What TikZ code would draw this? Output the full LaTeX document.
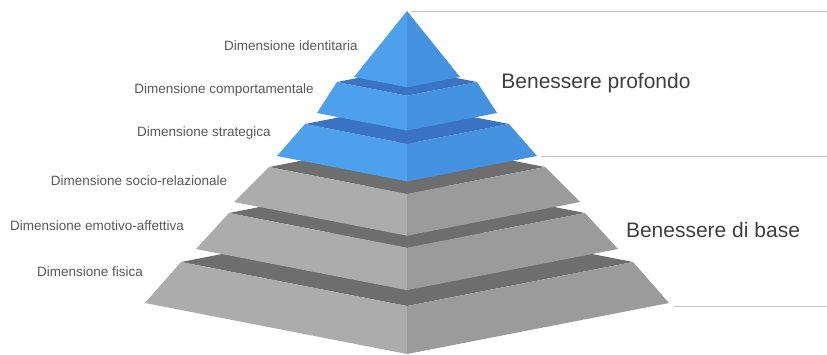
\documentclass[tikz,border=0pt]{standalone}
\usepackage{fontspec}
\setmainfont{Liberation Sans}
\usepackage{tikz}

\definecolor{blueL}{RGB}{77,160,235}
\definecolor{blueR}{RGB}{68,146,224}
\definecolor{blueT}{RGB}{58,114,196}
\definecolor{greyL}{RGB}{172,172,172}
\definecolor{greyR}{RGB}{155,155,155}
\definecolor{greyT}{RGB}{110,110,110}

\tikzset{
  dimlabel/.style={text=black!65, font=\fontsize{13.5}{15}\selectfont, inner sep=0pt},
  benlabel/.style={text=black!75, font=\fontsize{21}{24}\selectfont, inner sep=0pt},
  sepline/.style={draw=black!22, line width=0.9pt}
}

\begin{document}
\begin{tikzpicture}[x=1pt,y=-1pt]
\useasboundingbox (0,0) rectangle (827,355);
\fill[white] (0,0) rectangle (827,355);
\fill[greyT] (181,262) -- (407,218) -- (633,262) -- (407,306) -- cycle;
\fill[greyL] (181,262) -- (407,306) -- (407,354) -- (145,303) -- cycle;
\fill[greyR] (407,306) -- (633,262) -- (669,303) -- (407,354) -- cycle;
\fill[greyT] (229,213) -- (407,178.3) -- (585,213) -- (407,247.7) -- cycle;
\fill[greyL] (229,213) -- (407,247.7) -- (407,290.1) -- (196,249) -- cycle;
\fill[greyR] (407,247.7) -- (585,213) -- (618,249) -- (407,290.1) -- cycle;
\fill[greyT] (269,167) -- (407,140.1) -- (545,167) -- (407,193.9) -- cycle;
\fill[greyL] (269,167) -- (407,193.9) -- (407,235.7) -- (234,202) -- cycle;
\fill[greyR] (407,193.9) -- (545,167) -- (580,202) -- (407,235.7) -- cycle;
\fill[blueT] (305,124) -- (407,104.1) -- (509,124) -- (407,143.9) -- cycle;
\fill[blueL] (305,124) -- (407,143.9) -- (407,181.4) -- (277,156) -- cycle;
\fill[blueR] (407,143.9) -- (509,124) -- (537,156) -- (407,181.4) -- cycle;
\fill[blueT] (337,82) -- (407,68.4) -- (477,82) -- (407,95.7) -- cycle;
\fill[blueL] (337,82) -- (407,95.7) -- (407,130.6) -- (317,113) -- cycle;
\fill[blueR] (407,95.7) -- (477,82) -- (497,113) -- (407,130.6) -- cycle;
\fill[blueL] (407,11) -- (407,87.3) -- (354,77) -- cycle;
\fill[blueR] (407,11) -- (460,77) -- (407,87.3) -- cycle;

\coordinate (topA) at (411,11);
\coordinate (topB) at (827,11);
\coordinate (midA) at (541,156);
\coordinate (midB) at (827,156);
\coordinate (lowA) at (674,306);
\coordinate (lowB) at (827,306);
\draw[sepline] (topA) -- (topB);
\draw[sepline] (midA) -- (midB);
\draw[sepline] (lowA) -- (lowB);

\node[dimlabel] (identitaria) at (291,46) {Dimensione identitaria};
\node[dimlabel] (comportamentale) at (224,90) {Dimensione comportamentale};
\node[dimlabel] (strategica) at (204,133) {Dimensione strategica};
\node[dimlabel] (socio) at (139,181) {Dimensione socio-relazionale};
\node[dimlabel] (emotivo) at (97,226) {Dimensione emotivo-affettiva};
\node[dimlabel] (fisica) at (90,272) {Dimensione fisica};
\node[benlabel] (profondo) at (596,83) {Benessere profondo};
\node[benlabel] (base) at (713,230) {Benessere di base};
\end{tikzpicture}
\end{document}
